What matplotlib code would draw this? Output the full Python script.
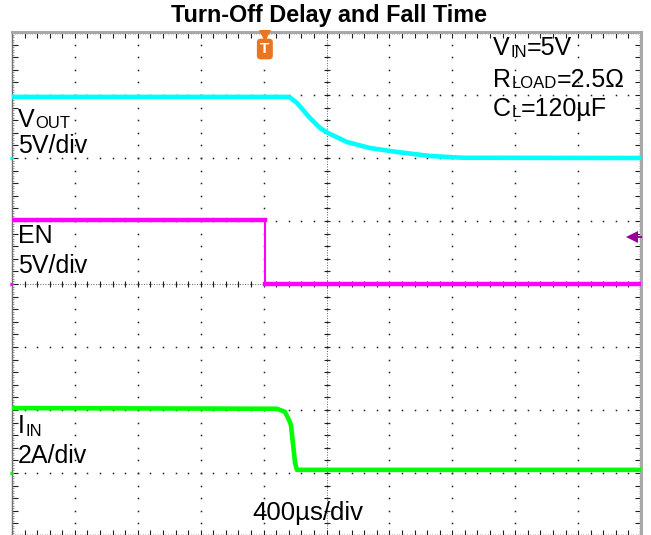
import numpy as np
import matplotlib
matplotlib.use("Agg")
import matplotlib.pyplot as plt
from matplotlib.transforms import offset_copy, blended_transform_factory

plt.rcParams['font.family'] = ['Liberation Sans', 'DejaVu Sans']

# ---------------- data ----------------
# time in microseconds relative to the trigger point
time_range = [-1600, 2400]          # 10 div x 400 us/div
vout_t = [-1600, 150, 168, 212, 295, 359, 410, 530, 677, 848, 1058, 1268, 2400]
vout_v = [4.85, 4.85, 4.8, 4.37, 3.17, 2.38, 1.98, 1.27, 0.79, 0.48, 0.16, 0.02, 0.0]

en_t = [-1600, 8, 8, 2400]
en_v = [5.05, 5.05, 0.0, 0.0]

iin_t = [-1600, 85, 136, 162, 174, 200, 212, 2400]
iin_a = [2.06, 2.04, 1.94, 1.68, 1.52, 0.32, 0.1, 0.1]

en_trigger_level = 3.7   # V, purple arrow on the right edge
trigger_time = 8         # us, orange T marker

channel_names = ["VOUT", "EN", "IIN"]
channel_scale = [5, 5, 2]            # units per division
channel_offset = [6, 4, 1]           # ground position (divisions)
channel_color = ["#00FFFF", "#FF00FF", "#00FF00"]

# ---------------- figure ----------------
W, H = 651, 535
fig = plt.figure(figsize=(W / 100, H / 100), dpi=100)
ax_l, ax_r, ax_t, ax_b = 12, 641, 32, 536
ax = fig.add_axes([ax_l / W, (H - ax_b) / H, (ax_r - ax_l) / W, (ax_b - ax_t) / H])
ax.set_xlim(*time_range)
ax.set_ylim(0, 8)
ax.set_facecolor("white")

xdiv = 400.0
xmin, xmax = time_range
center_t = xmin + 5 * xdiv

# ---- graticule ----
ydots = np.arange(0, 8.0001, 0.2)
xdots = np.arange(xmin, xmax + 0.1, xdiv / 5)
for k in range(1, 10):
    xt = xmin + k * xdiv
    ax.plot(np.full_like(ydots, xt), ydots, ls='none', marker='s', ms=1.1,
            mew=0, color='#202020', zorder=1)
for k in range(1, 8):
    ax.plot(xdots, np.full_like(xdots, k), ls='none', marker='s', ms=1.1,
            mew=0, color='#202020', zorder=1)
# centre cross-hair with small ticks
ax.plot([center_t, center_t], [0, 8], ls=(0, (1, 1.6)), lw=0.7, color='#606060', zorder=1)
ax.plot([xmin, xmax], [4, 4], ls=(0, (1, 1.6)), lw=0.7, color='#606060', zorder=1)
ax.plot(np.full_like(ydots, center_t), ydots, ls='none', marker='_', ms=4.5,
        mew=0.8, color='#202020', zorder=1)
ax.plot(xdots, np.full_like(xdots, 4), ls='none', marker='|', ms=4.5,
        mew=0.8, color='#202020', zorder=1)

# frame ticks
ax.set_xticks(np.arange(xmin, xmax + 0.1, xdiv / 5))
ax.set_xticks(np.arange(xmin, xmax + 0.1, xdiv / 25), minor=True)
ax.set_yticks(np.arange(0, 8.0001, 0.2))
ax.set_yticks(np.arange(0, 8.0001, 0.04), minor=True)
ax.tick_params(which='both', direction='in', top=True, right=True,
               labelbottom=False, labelleft=False)
ax.tick_params(which='major', length=4, width=0.8, color='#202020')
ax.tick_params(which='minor', length=1.6, width=0.5, color='#707070')
for side in ['left', 'bottom']:
    ax.spines[side].set_color('#707070')
    ax.spines[side].set_linewidth(1.0)
for side in ['top', 'right']:
    ax.spines[side].set_color('#a8a8a8')
    ax.spines[side].set_linewidth(2.2)

# ---- traces ----
def to_div(vals, ch):
    return np.asarray(vals, float) / channel_scale[ch] + channel_offset[ch]

ax.plot(vout_t, to_div(vout_v, 0), color=channel_color[0], lw=3.3,
        solid_joinstyle='round', zorder=3)
en_y = to_div(en_v, 1)
ax.plot(en_t[:2], en_y[:2], color=channel_color[1], lw=3.2, zorder=3)
ax.plot(en_t[1:3], en_y[1:3], color=channel_color[1], lw=1.5, zorder=3)
ax.plot(en_t[2:], en_y[2:], color=channel_color[1], lw=3.2, zorder=3)
ax.plot(iin_t, to_div(iin_a, 2), color=channel_color[2], lw=3.3,
        solid_joinstyle='round', zorder=3)

# ground markers on the left edge
for ch in range(3):
    ax.plot([xmin], [channel_offset[ch]], marker='>', ms=3, color=channel_color[ch],
            mew=0, clip_on=False, zorder=4)

# trigger marker (orange T)
trans_xa = blended_transform_factory(ax.transData, ax.transAxes)
ax.plot([trigger_time], [1 - 3.5 / (ax_b - ax_t)], marker='v', ms=8, color='#EA7520',
        mew=0, transform=trans_xa, clip_on=False, zorder=6)
ax.text(trigger_time, 1 - 17 / (ax_b - ax_t), 'T', color='white', fontweight='bold',
        fontsize=11, ha='center', va='center', transform=trans_xa, zorder=6,
        bbox=dict(boxstyle='round,pad=0.22,rounding_size=0.25', fc='#EA7520', ec='none'))

# EN trigger level arrow at right edge
trans_ay = blended_transform_factory(ax.transAxes, ax.transData)
lvl = to_div([en_trigger_level], 1)[0]
ax.plot([1 - 9.5 / (ax_r - ax_l)], [lvl], marker='<', ms=8, color='#990099', mew=0,
        transform=trans_ay, clip_on=False, zorder=6)
ax.plot([1 - 8 / (ax_r - ax_l), 1.0], [lvl, lvl], color='#990099', lw=1.5,
        transform=trans_ay, clip_on=False, zorder=6)

# ---- text ----
renderer = fig.canvas.get_renderer()

def rich(px, py, parts):
    """parts: (string, fontsize, drop_px)"""
    fx = (px - ax_l) / (ax_r - ax_l)
    fy = (ax_b - py) / (ax_b - ax_t)
    dx = 0.0
    for s, size, drop in parts:
        tr = offset_copy(ax.transAxes, fig=fig, x=dx, y=-drop, units='dots')
        t = ax.text(fx, fy, s, transform=tr, fontsize=size, ha='left', va='baseline',
                    color='black', zorder=7, clip_on=False)
        dx += t.get_window_extent(renderer=renderer).width + 0.5

big, small = 18, 12
rich(18, 127, [("V", big, 0), ("OUT", small, 1)])
rich(18, 153, [("5V/div", big, 0)])
rich(18, 243, [("EN", big, 0)])
rich(18, 273, [("5V/div", big, 0)])
rich(18, 433, [("I", big, 0), ("IN", small, 3)])
rich(18, 463, [("2A/div", big, 0)])
rich(252, 520, [("400µs/div", 18.5, 0)])
rich(493, 55, [("V", big, 0), ("IN", small, 2), ("=5V", big, 0)])
rich(493, 87, [("R", big, 0), ("LOAD", small, 1), ("=2.5Ω", big, 0)])
rich(493, 116, [("C", big, 0), ("L", small, 1), ("=120µF", big, 0)])

fig.text(329 / W, 1 - 22 / H, "Turn-Off Delay and Fall Time", fontsize=16.8,
         fontweight='bold', ha='center', va='baseline', color='black')

fig.savefig("out.png", dpi=100, facecolor='white')
